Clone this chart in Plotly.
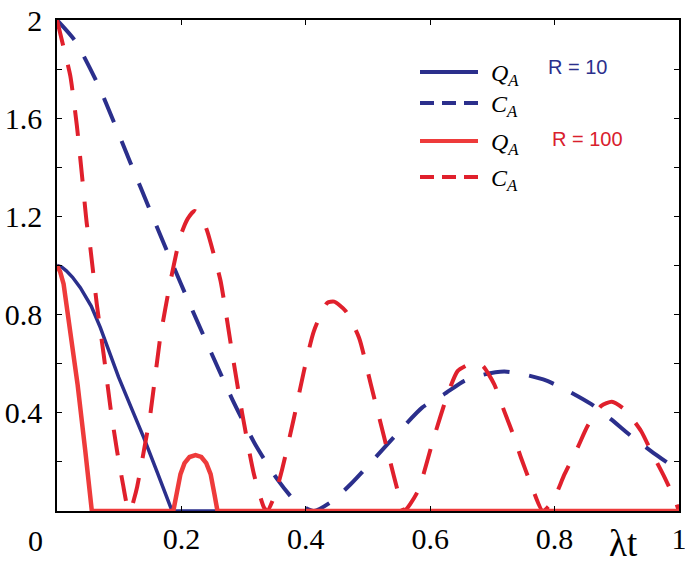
import plotly.graph_objects as go

# ---------------- data ----------------
# R = 10
t_qa10 = [0, 0.0075, 0.015, 0.025, 0.0375, 0.047, 0.055, 0.0697, 0.085, 0.099,
          0.1195, 0.1395, 0.162, 0.185, 1.0]
qa10 = [1.0, 0.994, 0.978, 0.952, 0.91, 0.872, 0.835, 0.747, 0.645, 0.545,
        0.42, 0.299, 0.152, 0.0, 0.0]

t_ca10 = [0, 0.0295, 0.067, 0.118, 0.150, 0.1825, 0.2147, 0.2818, 0.319, 0.354,
          0.385, 0.413, 0.443, 0.472, 0.502, 0.558, 0.587, 0.622, 0.655, 0.685,
          0.719, 0.746, 0.786, 0.824, 0.859, 0.891, 0.923, 0.955, 1.0]
ca10 = [2.0, 1.914, 1.731, 1.419, 1.222, 1.025, 0.835, 0.455, 0.27, 0.13,
        0.035, 0.0, 0.041, 0.109, 0.19, 0.346, 0.421, 0.475, 0.53, 0.555,
        0.568, 0.559, 0.532, 0.486, 0.435, 0.373, 0.305, 0.244, 0.163]

# R = 100
t_qa100 = [0, 0.005, 0.0106, 0.0187, 0.033, 0.0455, 0.056, 0.187, 0.192, 0.1985,
           0.205, 0.213, 0.2227, 0.232, 0.240, 0.247, 0.253, 0.258, 1.0]
qa100 = [1.0, 0.975, 0.925, 0.787, 0.517, 0.244, 0.0, 0.0, 0.07, 0.15,
         0.195, 0.22, 0.228, 0.22, 0.195, 0.15, 0.07, 0.0, 0.0]

t_ca100 = [0, 0.0107, 0.0214, 0.032, 0.040, 0.048, 0.0536, 0.064, 0.075, 0.086,
           0.0966, 0.106, 0.114, 0.118, 0.124, 0.129, 0.140, 0.150, 0.166, 0.1825,
           0.1985, 0.210, 0.221, 0.232, 0.2415, 0.252, 0.263, 0.282, 0.298, 0.3166,
           0.333, 0.338, 0.351, 0.362, 0.381, 0.397, 0.413, 0.4345, 0.4455, 0.464,
           0.4856, 0.5045, 0.526, 0.545, 0.558, 0.58, 0.606, 0.628, 0.644, 0.66,
           0.672, 0.685, 0.703, 0.719, 0.735, 0.746, 0.762, 0.781, 0.797, 0.816,
           0.837, 0.853, 0.875, 0.892, 0.912, 0.939, 0.955, 0.977, 0.993, 1.0]
ca100 = [2.0, 1.887, 1.772, 1.568, 1.371, 1.168, 1.072, 0.842, 0.638, 0.421,
         0.244, 0.11, 0.01, 0.0, 0.05, 0.10, 0.25, 0.394, 0.706, 0.937,
         1.12, 1.19, 1.222, 1.20, 1.14, 1.046, 0.937, 0.638, 0.394, 0.15,
         0.013, 0.0, 0.07, 0.17, 0.38, 0.57, 0.733, 0.848, 0.853, 0.815,
         0.706, 0.516, 0.30, 0.109, 0.0, 0.08, 0.30, 0.475, 0.57, 0.595,
         0.607, 0.59, 0.516, 0.407, 0.30, 0.217, 0.109, 0.0, 0.04, 0.15,
         0.258, 0.346, 0.428, 0.445, 0.415, 0.326, 0.244, 0.136, 0.048, 0.0]

x_tickvals = [0.2, 0.4, 0.6, 0.8, 1.0]
x_ticktext = ["0.2", "0.4", "0.6", "0.8", "1"]
y_tickvals = [0.2, 0.4, 0.6, 0.8, 1.0, 1.2, 1.4, 1.6, 1.8, 2.0]
y_ticktext = ["", "0.4", "", "0.8", "", "1.2", "", "1.6", "", "2"]

legend_labels = ["<i>Q<sub>A</sub></i>", "<i>C<sub>A</sub></i>",
                 "<i>Q<sub>A</sub></i>", "<i>C<sub>A</sub></i>"]
r_labels = ["R = 10", "R = 100"]

# ---------------- styles ----------------
SERIF = "Liberation Serif"
SANS = "Liberation Sans"
BLUE = "#2b2f8c"
RED_SOLID = "#ee3b3b"
RED_DASH = "#e0202c"
DASH = "26px,20px"
L, R, T, B = 57, 6, 20, 60
PW, PH = 685 - L - R, 571 - T - B

fig = go.Figure()
fig.add_trace(go.Scatter(x=t_qa10, y=qa10, mode="lines",
                         line=dict(color=BLUE, width=3.5)))
fig.add_trace(go.Scatter(x=t_ca10, y=ca10, mode="lines",
                         line=dict(color=BLUE, width=4, dash=DASH, shape="spline", smoothing=0.6)))
fig.add_trace(go.Scatter(x=t_ca100, y=ca100, mode="lines",
                         line=dict(color=RED_DASH, width=4, dash=DASH, shape="spline", smoothing=0.6)))
fig.add_trace(go.Scatter(x=t_qa100, y=qa100, mode="lines",
                         line=dict(color=RED_SOLID, width=4.5)))


def px2paper(px, py):
    return (px - L) / PW, (571 - B - py) / PH


shapes = []
annotations = []
leg_rows = [(72, BLUE, "solid"), (103, BLUE, "14px,8px"),
            (141, RED_SOLID, "solid"), (177, RED_DASH, "14px,8px")]
for (py, col, dsh), lab in zip(leg_rows, legend_labels):
    x0, y0 = px2paper(420, py)
    x1, _ = px2paper(478, py)
    shapes.append(dict(type="line", xref="paper", yref="paper", x0=x0, x1=x1,
                       y0=y0, y1=y0, line=dict(color=col, width=4, dash=dsh)))
    tx, ty = px2paper(489, py + 3)
    annotations.append(dict(xref="paper", yref="paper", x=tx, y=ty, text=lab,
                            showarrow=False, xanchor="left", yanchor="middle",
                            font=dict(family=SERIF, size=24, color="black")))

for (lab, py, px, col) in [(r_labels[0], 67, 546, BLUE), (r_labels[1], 139, 550, "#d9202c")]:
    tx, ty = px2paper(px, py)
    annotations.append(dict(xref="paper", yref="paper", x=tx, y=ty, text=lab,
                            showarrow=False, xanchor="left", yanchor="middle",
                            font=dict(family=SANS, size=20, color=col)))

# corner "0" and axis title λt
annotations.append(dict(xref="paper", yref="paper", x=(35 - L) / PW, y=-(540 - (571 - B)) / PH,
                        text="0", showarrow=False, xanchor="center", yanchor="middle",
                        font=dict(family=SERIF, size=30, color="black")))
annotations.append(dict(xref="paper", yref="paper", x=(623 - L) / PW, y=-(543 - (571 - B)) / PH,
                        text="λt", showarrow=False, xanchor="center", yanchor="middle",
                        font=dict(family=SERIF, size=37, color="black")))

axis_common = dict(showgrid=False, zeroline=False, showline=True, linecolor="black",
                   linewidth=1.5, mirror="ticks", ticks="inside", ticklen=5,
                   tickcolor="black", tickwidth=1.2, automargin=False,
                   ticklabeloverflow="allow",
                   tickfont=dict(family=SERIF, size=30, color="black"))

fig.update_layout(
    width=685, height=571,
    margin=dict(l=L, r=R, t=T, b=B),
    paper_bgcolor="white", plot_bgcolor="white",
    showlegend=False,
    font=dict(family=SERIF),
    shapes=shapes, annotations=annotations,
    xaxis=dict(range=[0, 1], tickmode="array", tickvals=x_tickvals, ticktext=x_ticktext,
               **axis_common),
    yaxis=dict(range=[0, 2], tickmode="array", tickvals=y_tickvals, ticktext=y_ticktext,
               ticklabelstandoff=7, **axis_common),
)

fig.write_html("out.html", config={"displayModeBar": False},
               post_script="document.body.style.margin='0';document.body.style.padding='0';")
